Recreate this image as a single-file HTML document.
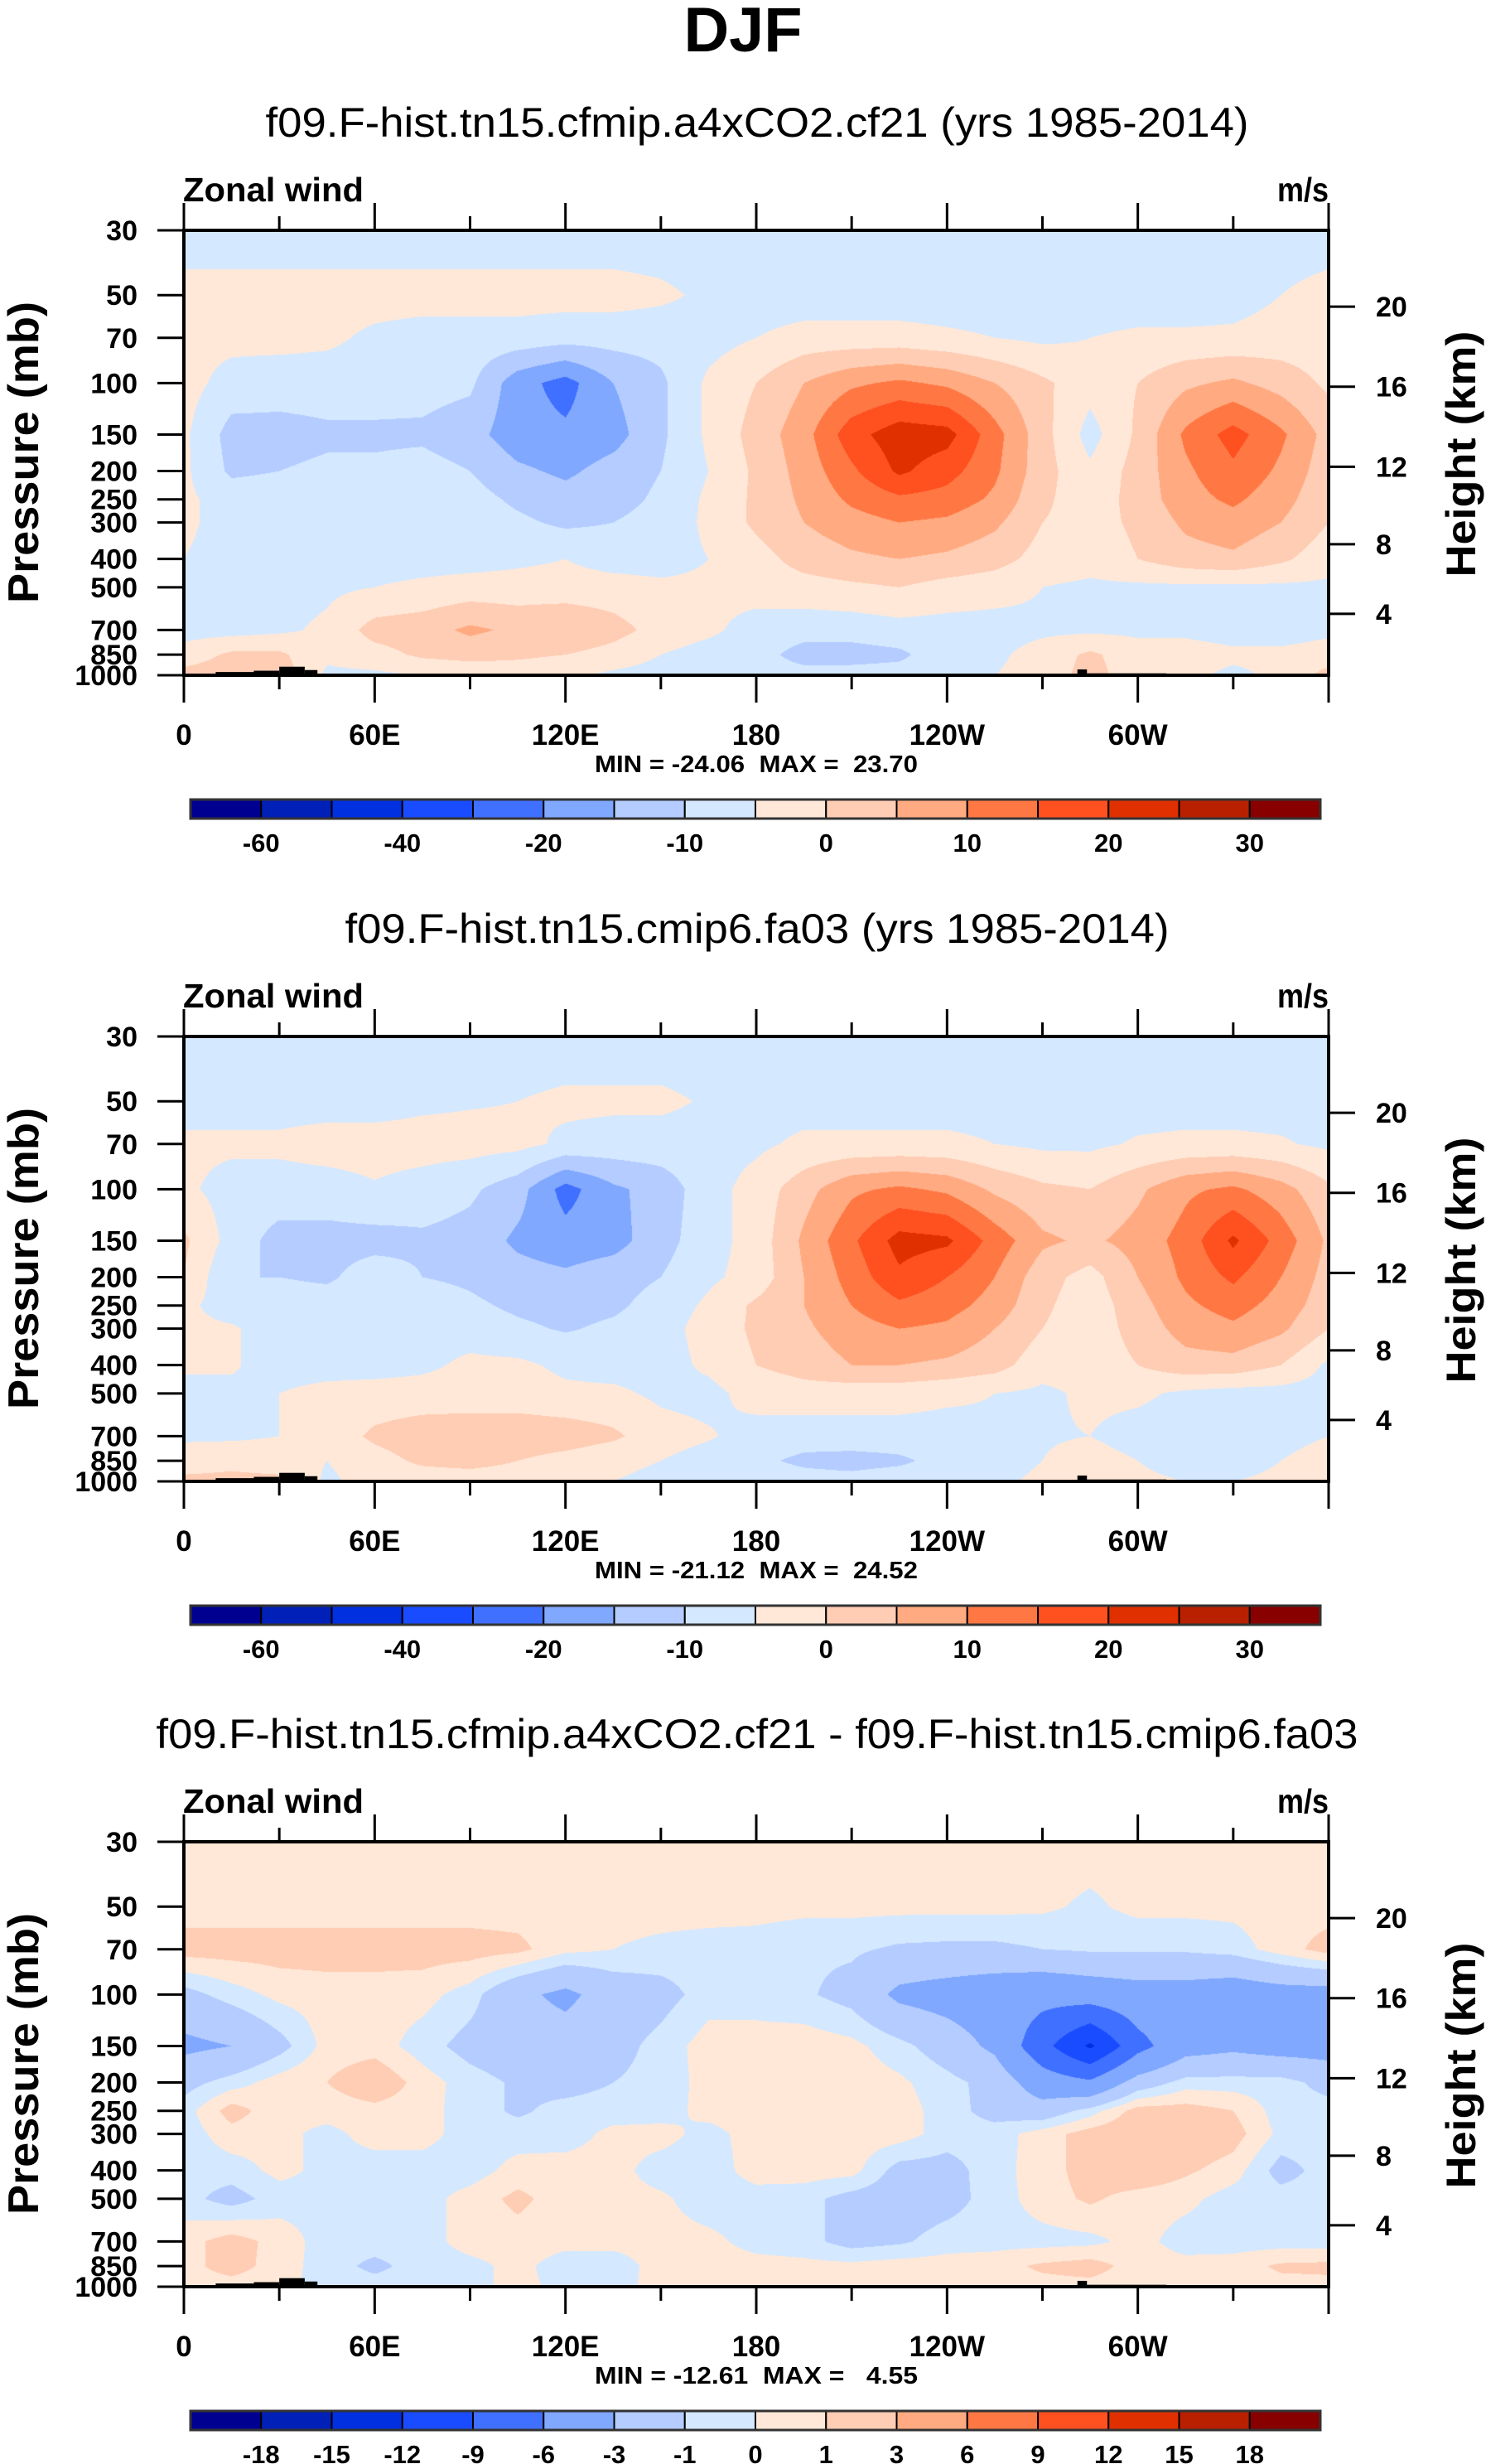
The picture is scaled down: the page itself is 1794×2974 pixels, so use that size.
<!DOCTYPE html>
<html><head><meta charset="utf-8">
<style>
html,body{margin:0;padding:0;background:#fff;}
body{width:1794px;height:2974px;position:relative;overflow:hidden;font-family:"Liberation Sans",sans-serif;}
canvas{position:absolute;}
svg{position:absolute;left:0;top:0;}
</style></head>
<body>
<div id="fields"></div>
<svg id="ov" width="1794" height="2974" xmlns="http://www.w3.org/2000/svg"></svg>
<script>
const lonNodes=[0,15,30,45,60,75,90,105,120,135,150,165,180,195,210,225,240,255,270,285,300,315,330,345,360];
const presNodes=[30,50,70,100,150,200,250,300,400,500,700,850,1000];
const u1Rows=[
[-8,-8,-8,-8,-8,-8,-8,-8,-8,-8,-8,-8,-8,-8,-8,-8,-8,-8,-8,-8,-8,-8,-8,-8,-8],
[-3,-3,-3,-3,-3,-3,-3,-3,-3,-3,-4,-6,-8,-8,-8,-8,-8,-8,-8,-8,-8,-8,-7,-5,-3],
[-3.5,-3.5,-3.5,-4,-6,-7,-7,-7,-8,-8,-8,-7,-5,-3,-3,-3,-4,-5,-6,-5,-4,-4,-4,-3,-3],
[-3,-7,-7.5,-7.5,-7.5,-8,-9,-18,-22,-15,-11,-4,0,5,9,11,9,5,1,-3,0,4,6,3,-1],
[-4,-12,-12,-11,-11,-11,-13,-18,-19,-17,-11,-4,2,8,18,23,22,12,2,-7,1,11,17,11,3],
[-4,-11,-10,-9,-9,-8,-10,-14,-16,-13,-10,-5,1,7,14,21,17,11,2,-4,2,9,14,9,2],
[-4,-7,-7,-7,-7,-7,-8,-11,-13,-12,-9,-4,1,6,11,14,13,9,1,-3,2,8,11,7,1],
[-4,-7,-7,-7,-7,-7,-7,-9,-11,-10,-8,-4,1,5,8,10,9,6,0,-2,1,6,8,5,0],
[-5,-7,-7,-7,-7,-7,-7,-6,-5,-7,-7,-5,-2,2,4,5,4,2,-2,-3,0,3,4,1,-3],
[-7,-7,-7,-6,-5,-4,-3,-3,-3,-3,-4,-4,-3,-2,-1,0,-2,-3,-5,-6,-6,-6,-6,-6,-6],
[-7,-7,-6,-4,2,3,6,4,5,2,-2,-4,-7,-8,-8,-7,-7,-7,-6,-6,-6,-6,-7,-7,-6],
[-3,1,1,-4,-2,1,2,1,0,-2,-5,-7,-8,-12,-12,-11,-7,-6,-3,1,-3,-3,-4,-4,-3],
[2,3,3,-6,-6,-5,-4,-3,-4,-6,-7,-8,-8,-8,-8,-8,-7,-5,-3,2,-3,-4,-6,-4,2]];
const u2Rows=[
[-8,-8,-8,-8,-8,-8,-8,-8,-8,-8,-8,-8,-8,-8,-8,-8,-8,-8,-8,-8,-8,-8,-8,-8,-8],
[-7,-7,-7,-7,-7,-6,-5.5,-5,-4,-4,-4,-5.5,-7,-7,-7,-7,-7,-7,-7,-7,-7,-7,-7,-7,-7],
[-4,-4,-4,-3,-3,-3,-3,-3.5,-6,-7,-7,-7,-6,-4,-4,-4,-4,-5,-6,-6,-4.5,-4,-4,-4.5,-6],
[-4,-7,-7,-7,-5.5,-7,-9,-13,-22,-16,-13,-7,-3,3,9,11,9,4,1,0,4,9,11,7,1],
[1,-7,-12,-12,-12,-11,-12,-16,-18,-17,-12,-7,-3,6,14,22,21,13,6,4,7,12,21,13,4],
[0,-10,-10,-11,-7,-10,-11,-13,-14,-12,-10,-6,-3,5,12,19,15,10,2,-2,5,11,16,10,3],
[-4,-7,-7,-7,-7,-7,-9,-11,-12,-11,-8,-4,1,5,10,14,12,8,1,-3,3,9,12,8,2],
[-4,-4.5,-7,-7,-7,-7,-7,-9,-10.5,-9,-7,-3,1,4,8,10,9,5,0,-3,2,7,9,6,0],
[-4,-4.5,-7,-7,-7,-6,-4,-4,-6,-7,-7,-4,0,2,5,5,4,2,-3,-3,0,3,3,0,-6],
[-7,-6,-5,-3.5,-3,-3,-3,-3,-4,-4,-6,-6.5,-3,-2,-3,-3,-4,-5,-6,-4,-4,-6,-7,-7,-7],
[-6,-6,-5,-3,1,3,3.5,3.5,3,1,-3,-4.5,-7,-8,-7,-7,-7,-6,-5.5,-5,-7,-8,-7,-6.5,-5],
[-2,-1,-2,-5,-2,1,2,0,-2,-4,-5,-7,-9,-11,-12,-11,-8,-7,-5,-3,-5,-7,-7,-5,-3],
[1,1,1,-6,-3,-3,-3,-3,-3,-5,-6,-7,-7,-8,-8,-7,-7,-6,-4,0,-4,-5,-5,-4,-3]];
const u3Rows=[
[0.5,0.5,0.5,0.5,0.5,0.5,0.5,0.5,0.5,0.5,0.5,0.5,0.5,0.5,0.5,0.5,0.5,0.5,0.5,0.5,0.5,0.5,0.5,0.5,0.5],
[0.5,0.5,0.5,0.5,0.5,0.5,0.5,0.5,0.5,0.5,0.5,0.5,0.4,0.3,0.3,0.3,0.3,0.3,0.2,-0.2,0.3,0.3,0.3,0.5,0.5],
[1.5,1.5,1.5,1.5,1.5,1.5,1.5,1.3,0.3,0,-0.3,-0.5,-0.5,-0.8,-0.8,-1.2,-1.3,-1.3,-1,-0.8,-0.8,-0.8,-0.5,0.5,1.5],
[-1.5,-0.5,0.3,0.5,0.5,0.4,-0.5,-2.5,-3.5,-2,-1.5,-0.5,-0.5,-0.8,-1.5,-3.5,-4,-4.5,-5,-4.5,-4,-4,-4.5,-4,-4],
[-3.5,-3,-1.5,0.4,0.5,-0.5,-1.5,-2,-2,-1.5,-0.6,0.5,0.5,0.6,0.3,-0.6,-1.8,-3.5,-8,-12.5,-7,-4,-3.5,-4,-4],
[-1.5,-0.5,0.5,1,2,0.5,-0.5,-1.2,-1.5,-1,-0.6,0.4,0.6,0.7,0.6,0.2,-0.6,-1.5,-4.5,-5.5,-2,-0.5,-0.5,-0.5,-1.5],
[-0.5,1.5,0.3,0.4,0.6,0.4,-0.5,-1.2,-0.6,-0.5,-0.5,0.4,0.6,0.6,0.6,0.5,-0.5,-1.5,-2,-0.5,1.5,1.5,1,-0.5,-0.5],
[-0.6,0.6,0.3,-0.3,0.4,0.4,-0.5,-0.5,-0.5,0.3,0.4,-0.4,0.5,0.6,0.6,0.5,-0.5,-0.5,0.5,1.5,2,2,1.5,-0.3,-0.5],
[-0.6,-0.5,0.3,-0.3,-0.5,-0.5,-0.5,0.4,0.5,0.4,-0.5,-0.6,0.5,0.5,0.4,-1.5,-1.5,-0.4,0.5,1.5,2,1.2,0.5,-1.5,-0.5],
[-0.6,-1.5,-0.5,-0.3,-0.4,-0.4,0.4,1.3,0.4,0.4,0.2,-0.6,-0.5,-0.6,-1.5,-1.8,-1.5,-0.5,0.5,1.2,0.5,0.3,-0.5,-0.5,-0.5],
[0.6,1.5,0.6,-0.5,-0.5,-0.4,0.4,0.5,0.3,0.3,0.4,0.3,-0.4,-0.6,-1.5,-1.2,-0.5,-0.4,-0.4,-0.3,0.4,-0.5,-0.5,-0.5,-0.5],
[0.6,1.5,0.5,-0.5,-1.3,-0.5,-0.3,0.3,-0.5,-0.5,0.4,0.5,0.4,0.3,0.3,0.5,0.5,0.6,1.2,1.5,0.5,0.4,0.5,1.2,1.3],
[0.5,0.5,0.3,-0.4,-0.5,-0.5,-0.3,0.3,-0.3,-0.3,0.3,0.4,0.4,0.3,0.3,0.4,0.4,0.5,0.6,0.6,0.3,0.4,0.4,0.6,0.6]];
const levelsAbs=[-60,-50,-40,-30,-20,-15,-10,-5,0,5,10,15,20,25,30];
const levelsDiff=[-18,-15,-12,-9,-6,-3,-1,0,1,3,6,9,12,15,18];
const labelsAbs=["-60","-40","-20","-10","0","10","20","30"];
const labelsDiff=["-18","-15","-12","-9","-6","-3","-1","0","1","3","6","9","12","15","18"];
const pressureTicks=[30,50,70,100,150,200,250,300,400,500,700,850,1000];
const heightTicks=[20,16,12,8,4];
const lonTicks=[0,60,120,180,240,300];
const lonTickLabels=["0","60E","120E","180","120W","60W"];
const subtitles=["f09.F-hist.tn15.cfmip.a4xCO2.cf21 (yrs 1985-2014)","f09.F-hist.tn15.cmip6.fa03 (yrs 1985-2014)","f09.F-hist.tn15.cfmip.a4xCO2.cf21 - f09.F-hist.tn15.cmip6.fa03"];
const minMaxText=["MIN = -24.06  MAX =  23.70","MIN = -21.12  MAX =  24.52","MIN = -12.61  MAX =   4.55"];
const topoSegs=[[10,22,975],[22,30,965],[30,38,935],[38,42,960],[103,105,990],[113,120,988],[145,170,992],[281,284,955],[284,309,985]];

const colors=["#000090","#0020b8","#0030e0","#1a4cff","#4070ff","#80a8ff","#b4ccff","#d4e8ff","#ffe8d8","#ffccb4","#ffaa80","#ff7844","#ff5020","#e03000","#b82000","#880000"];
const X0=222,W=1382,H=537,tops=[278,1251,2223];
const LN=Math.log(1000/30);
function yOfP(p){return H*Math.log(p/30)/LN;}
function xOfLon(l){return W*l/360;}
function pOfZ(z){return z<=11?1013.25*Math.pow(1-2.25577e-5*z*1000,5.25588):226.32*Math.exp(-(z-11)/6.3416);}
function hex(c){return [parseInt(c.substr(1,2),16),parseInt(c.substr(3,2),16),parseInt(c.substr(5,2),16)];}
const rgb=colors.map(hex);
const logNodes=presNodes.map(p=>Math.log(p));
function drawField(rows,levels,top,idx){
  const cv=document.createElement('canvas');
  cv.width=W;cv.height=H;cv.style.left=X0+'px';cv.style.top=top+'px';
  
  
  document.getElementById('fields').appendChild(cv);
  const ctx=cv.getContext('2d');const img=ctx.createImageData(W,H);const d=img.data;
  for(let py=0;py<H;py++){
    const lp=Math.log(30)+(py+0.5)/H*LN;
    let j=0;while(j<logNodes.length-2&&lp>logNodes[j+1])j++;
    const s=Math.min(1,Math.max(0,(lp-logNodes[j])/(logNodes[j+1]-logNodes[j])));
    for(let px=0;px<W;px++){
      const fi=(px+0.5)/W*360/15;let i=Math.min(23,Math.floor(fi));const t=fi-i;
      const v=(rows[j][i]*(1-t)+rows[j][i+1]*t)*(1-s)+(rows[j+1][i]*(1-t)+rows[j+1][i+1]*t)*s;
      let k=0;while(k<levels.length&&v>=levels[k])k++;
      const c=rgb[k];const o=(py*W+px)*4;d[o]=c[0];d[o+1]=c[1];d[o+2]=c[2];d[o+3]=255;
    }
  }
  ctx.putImageData(img,0,0);
}
const NS="http://www.w3.org/2000/svg";const ov=document.getElementById('ov');
function el(tag,attrs,parent,text){const e=document.createElementNS(NS,tag);for(const k in attrs)e.setAttribute(k,attrs[k]);if(text!==undefined)e.textContent=text;(parent||ov).appendChild(e);return e;}
function txt(x,y,s,size,anchor,weight,len,name,parent){
  const a={x:x,y:y,'font-size':size,'text-anchor':anchor,'font-weight':weight,'font-family':'Liberation Sans, sans-serif',fill:'#000',style:'white-space:pre'};
  if(len){a.textLength=len;a.lengthAdjust='spacingAndGlyphs';}
  const t=el('text',a,parent,s);
  
  
  return t;
}
txt(897,62,"DJF",76,'middle','bold',143,'figure-title');
const subLens=[1187,995,1451];
const rowsAll=[u1Rows,u2Rows,u3Rows];
for(let k=0;k<3;k++){
  const top=tops[k],dy=top-278;
  const levels=k<2?levelsAbs:levelsDiff;
  drawField(rowsAll[k],levels,top,k);
  const g=el('g',{});
  
  
  txt(914,165+dy,subtitles[k],50,'middle','normal',subLens[k],'panel-subtitle',g);
  txt(221,243+dy,"Zonal wind",41,'start','bold',218,'field-label',g);
  txt(1604,243+dy,"m/s",41,'end','bold',62,'units-label',g);
  for(const sg of topoSegs){
    const r=el('rect',{x:X0+xOfLon(sg[0]),y:top+yOfP(sg[2]),width:xOfLon(sg[1]-sg[0]),height:H-yOfP(sg[2]),fill:'#000'},g);
    
    
  }
  const bx=el('rect',{x:X0,y:top,width:W,height:H,fill:'none',stroke:'#000','stroke-width':4},g);
  
  
  for(let l=0;l<=360;l+=30){
    const x=X0+xOfLon(l);const maj=l%60===0;const L=maj?33:17;
    el('line',{x1:x,y1:top,x2:x,y2:top-L,stroke:'#000','stroke-width':3},g);
    el('line',{x1:x,y1:top+H,x2:x,y2:top+H+L,stroke:'#000','stroke-width':3},g);
  }
  lonTicks.forEach((l,i)=>{txt(X0+xOfLon(l),top+H+84,lonTickLabels[i],35,'middle','bold',null,'x-tick-label',g);});
  pressureTicks.forEach(p=>{
    const y=top+yOfP(p);
    el('line',{x1:X0,y1:y,x2:X0-32,y2:y,stroke:'#000','stroke-width':3},g);
    txt(166,y+12,String(p),34,'end','bold',null,'y-tick-label',g);
  });
  heightTicks.forEach(z=>{
    const y=top+yOfP(pOfZ(z));
    el('line',{x1:X0+W,y1:y,x2:X0+W+32,y2:y,stroke:'#000','stroke-width':3},g);
    txt(1661,y+12,String(z),34,'start','bold',null,'right-tick-label',g);
  });
  const pl=txt(0,0,"Pressure (mb)",52,'middle','bold',364,'y-axis-title',g);
  pl.setAttribute('transform','translate(46,'+(top+268)+') rotate(-90)');
  const hl=txt(0,0,"Height (km)",50,'middle','bold',297,'right-axis-title',g);
  hl.setAttribute('transform','translate(1781,'+(top+270)+') rotate(-90)');
  txt(913,top+654,minMaxText[k],29,'middle','bold',390,'min-max-text',g);
  const cbX=230,cbW=1364,cbY=top+687,cbH=23,bw=cbW/16;
  colors.forEach((c,i)=>{
    const r=el('rect',{x:cbX+i*bw,y:cbY,width:bw,height:cbH,fill:c,stroke:'#000','stroke-width':2},g);
    
    
  });
  el('rect',{x:cbX,y:cbY,width:cbW,height:cbH,fill:'none',stroke:'#333','stroke-width':3},g);
  if(k<2){
    labelsAbs.forEach((s,i)=>{txt(cbX+(2*i+1)*bw,top+750,s,31,'middle','bold',null,'colorbar-label',g);});
  }else{
    labelsDiff.forEach((s,i)=>{txt(cbX+(i+1)*bw,top+750,s,31,'middle','bold',null,'colorbar-label',g);});
  }
}
</script>
</body></html>
